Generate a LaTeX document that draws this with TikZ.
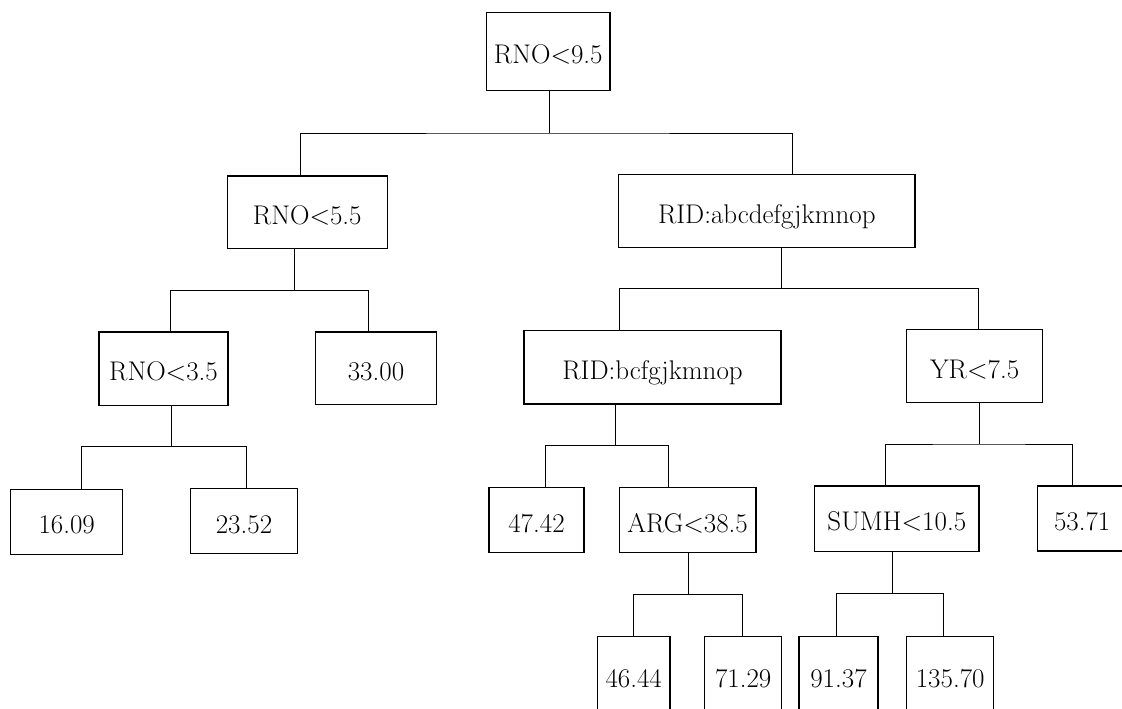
\documentclass[tikz,border=0pt]{standalone}
\usepackage{fontspec}
\begin{document}
\begin{tikzpicture}[x=1pt,y=-1pt,
  box/.style={draw, line width=1.4pt, inner sep=0pt, anchor=center,
    font=\fontsize{27}{32}\selectfont, text height=24pt, text depth=0pt},
  conn/.style={line width=0.9pt}]
\clip (0,0) rectangle (1122,709);
% level 0
\node[box, minimum width=123.3, minimum height=78] (root) at (548.3,51.7) {RNO<9.5};
% level 1
\node[box, minimum width=160, minimum height=72.7] (n55) at (307.3,212.3) {RNO<5.5};
\node[box, minimum width=296.3, minimum height=73.4] (ridA) at (766.8,211) {RID:abcdefgjkmnop};
% level 2
\node[box, minimum width=129, minimum height=73.3] (n35) at (163.5,368.7) {RNO<3.5};
\node[box, minimum width=121.4, minimum height=72.7] (v33) at (376,368.3) {33.00};
\node[box, minimum width=256.7, minimum height=73.3] (ridB) at (652.5,367.3) {RID:bcfgjkmnop};
\node[box, minimum width=135.9, minimum height=73] (yr) at (974.6,366.2) {YR<7.5};
% level 3
\node[box, minimum width=112, minimum height=65] (v1609) at (66.7,521.8) {16.09};
\node[box, minimum width=106.6, minimum height=64.6] (v2352) at (244,521) {23.52};
\node[box, minimum width=95, minimum height=65] (v4742) at (536.5,520.2) {47.42};
\node[box, minimum width=136.7, minimum height=64.6] (arg) at (687.6,520) {ARG<38.5};
\node[box, minimum width=164.3, minimum height=65.7] (sumh) at (896.8,518.8) {SUMH<10.5};
\node[box, minimum width=89, minimum height=65] (v5371) at (1082.2,518.5) {53.71};
% level 4
\node[box, minimum width=72.7, minimum height=78] (v4644) at (633.7,675.7) {46.44};
\node[box, minimum width=77, minimum height=78] (v7129) at (743.2,675.7) {71.29};
\node[box, minimum width=79, minimum height=78] (v9137) at (838.5,675.7) {91.37};
\node[box, minimum width=87, minimum height=78] (v13570) at (950.2,675.7) {135.70};
% junctions
\coordinate (j0) at (549.3,133);
\coordinate (j1) at (294.3,290.7);
\coordinate (j2) at (781,288.7);
\coordinate (j3) at (171.3,446.7);
\coordinate (j4) at (615.7,445.7);
\coordinate (j5) at (979,444);
\coordinate (j6) at (688.3,594.3);
\coordinate (j7) at (892.3,593.7);
% connectors
\draw[conn] (root.south -| j0) -- (j0);
\draw[conn] ([xshift=-7.3]n55.north) |- (j0) -| ([xshift=25.5]ridA.north);
\draw[conn] (n55.south -| j1) -- (j1);
\draw[conn] ([xshift=7.2]n35.north) |- (j1) -| ([xshift=-7.3]v33.north);
\draw[conn] (ridA.south -| j2) -- (j2);
\draw[conn] ([xshift=-33.3]ridB.north) |- (j2) -| ([xshift=3.9]yr.north);
\draw[conn] (n35.south -| j3) -- (j3);
\draw[conn] ([xshift=15]v1609.north) |- (j3) -| ([xshift=2]v2352.north);
\draw[conn] (ridB.south -| j4) -- (j4);
\draw[conn] ([xshift=8.5]v4742.north) |- (j4) -| ([xshift=-19.3]arg.north);
\draw[conn] (yr.south -| j5) -- (j5);
\draw[conn] ([xshift=-11.1]sumh.north) |- (j5) -| ([xshift=-10.2]v5371.north);
\draw[conn] (arg.south -| j6) -- (j6);
\draw[conn] ([xshift=-0.4]v4644.north) |- (j6) -| ([xshift=-0.5]v7129.north);
\draw[conn] (sumh.south -| j7) -- (j7);
\draw[conn] ([xshift=-2.5]v9137.north) |- (j7) -| ([xshift=-6.5]v13570.north);
\end{tikzpicture}
\end{document}
